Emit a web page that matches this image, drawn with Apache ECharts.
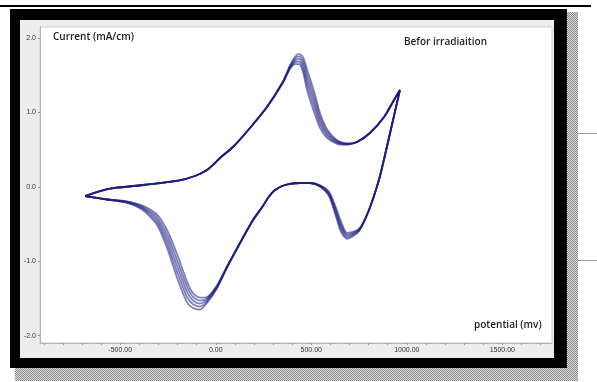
<!DOCTYPE html>
<html>
<head>
<meta charset="utf-8">
<script src="https://cdn.jsdelivr.net/npm/echarts@6/dist/echarts.min.js"></script>
<style>
  html, body { margin: 0; padding: 0; background: #fff; }
  body { width: 597px; height: 382px; position: relative; overflow: hidden; }
  .rule { position: absolute; left: 0; top: 5px; width: 591px; height: 2px; background: #000; }
  .shadow { position: absolute; left: 15px; top: 12px; width: 563px; height: 369px;
    background: repeating-conic-gradient(#8c8c8c 0 25%, #dadada 0 50%) 0 0 / 2px 2px; }
  .frame { position: absolute; left: 10px; top: 9px; width: 557px; height: 359px; background: #000; }
  .panel { position: absolute; left: 20px; top: 20px; width: 534px; height: 338px; background: #ededed; }
  .side { position: absolute; left: 578px; width: 19px; height: 1px; background: #9a9a9a; }
  #chart { position: absolute; left: 0; top: 0; width: 597px; height: 382px; filter: blur(0.45px); }
</style>
</head>
<body>
<div class="rule"></div>
<div class="shadow"></div>
<div class="frame"></div>
<div class="panel"></div>
<div class="side" style="top:133px"></div>
<div class="side" style="top:260px"></div>
<div id="chart"></div>
<script>
// Sweep potential (mV): forward scan from the negative vertex, then reverse scan back
const potential = [
  -684, -606, -527, -381, -203, -109, -46, -4, 22, 90,
  179, 268, 352, 389, 415, 436, 457, 478, 514, 546,
  582, 635, 687, 739, 807, 881, 933, 964,
  922, 886, 854, 802, 750, 687, 656, 629, 593, 546,
  493, 441, 362, 310, 273, 247, 195, 127, 59, 6,
  -46, -83, -119, -151, -203, -255, -308, -381, -465, -569,
  -658, -684
];

// Current density (mA/cm) for each of the five recorded cycles
const cycle1 = [
  -0.123, -0.056, -0.015, 0.025, 0.079, 0.146, 0.227, 0.321, 0.388, 0.536,
  0.792, 1.074, 1.400, 1.588, 1.650, 1.652, 1.540, 1.300, 1.010, 0.790,
  0.660, 0.579, 0.568, 0.603, 0.724, 0.939, 1.168, 1.303,
  0.832, 0.428, 0.092, -0.311, -0.564, -0.620, -0.470, -0.278, -0.066, 0.021,
  0.052, 0.052, 0.025, -0.042, -0.150, -0.258, -0.446, -0.755, -1.070, -1.327,
  -1.482, -1.490, -1.430, -1.270, -0.900, -0.580, -0.370, -0.254, -0.194, -0.170,
  -0.135, -0.123
];
const cycle2 = [
  -0.123, -0.056, -0.015, 0.025, 0.079, 0.146, 0.227, 0.321, 0.388, 0.536,
  0.792, 1.074, 1.405, 1.600, 1.675, 1.686, 1.590, 1.370, 1.080, 0.840,
  0.690, 0.591, 0.572, 0.603, 0.724, 0.939, 1.168, 1.303,
  0.832, 0.428, 0.092, -0.311, -0.572, -0.640, -0.505, -0.308, -0.081, 0.016,
  0.052, 0.052, 0.025, -0.042, -0.150, -0.258, -0.446, -0.755, -1.074, -1.337,
  -1.502, -1.530, -1.480, -1.340, -0.980, -0.640, -0.405, -0.269, -0.199, -0.170,
  -0.135, -0.123
];
const cycle3 = [
  -0.123, -0.056, -0.015, 0.025, 0.079, 0.146, 0.227, 0.321, 0.388, 0.536,
  0.792, 1.074, 1.410, 1.612, 1.700, 1.720, 1.640, 1.440, 1.150, 0.890,
  0.720, 0.603, 0.576, 0.603, 0.724, 0.939, 1.168, 1.303,
  0.832, 0.428, 0.092, -0.311, -0.580, -0.660, -0.540, -0.338, -0.096, 0.011,
  0.052, 0.052, 0.025, -0.042, -0.150, -0.258, -0.446, -0.755, -1.078, -1.347,
  -1.522, -1.570, -1.530, -1.410, -1.060, -0.700, -0.440, -0.284, -0.204, -0.170,
  -0.135, -0.123
];
const cycle4 = [
  -0.123, -0.056, -0.015, 0.025, 0.079, 0.146, 0.227, 0.321, 0.388, 0.536,
  0.792, 1.074, 1.415, 1.624, 1.725, 1.754, 1.690, 1.510, 1.220, 0.940,
  0.750, 0.615, 0.580, 0.603, 0.724, 0.939, 1.168, 1.303,
  0.832, 0.428, 0.092, -0.311, -0.588, -0.680, -0.575, -0.368, -0.111, 0.006,
  0.052, 0.052, 0.025, -0.042, -0.150, -0.258, -0.446, -0.755, -1.082, -1.357,
  -1.542, -1.610, -1.580, -1.480, -1.140, -0.760, -0.475, -0.299, -0.209, -0.170,
  -0.135, -0.123
];
const cycle5 = [
  -0.123, -0.056, -0.015, 0.025, 0.079, 0.146, 0.227, 0.321, 0.388, 0.536,
  0.792, 1.074, 1.420, 1.636, 1.750, 1.788, 1.740, 1.580, 1.290, 0.990,
  0.780, 0.627, 0.584, 0.603, 0.724, 0.939, 1.168, 1.303,
  0.832, 0.428, 0.092, -0.311, -0.596, -0.700, -0.610, -0.398, -0.126, 0.001,
  0.052, 0.052, 0.025, -0.042, -0.150, -0.258, -0.446, -0.755, -1.086, -1.367,
  -1.562, -1.650, -1.630, -1.550, -1.220, -0.820, -0.510, -0.314, -0.214, -0.170,
  -0.135, -0.123
];
const cycles = [cycle1, cycle2, cycle3, cycle4, cycle5];

// Axis ticks and labels
const xLabelValues = [-500, 0, 500, 1000, 1500];
const xTickValues = [-900, -800, -700, -600, -500, -400, -300, -200, -100, 0, 100, 200, 300,
  400, 500, 600, 700, 800, 900, 1000, 1100, 1200, 1300, 1400, 1500, 1600, 1700];
const yLabelValues = [-2, -1, 0, 1, 2];

const chart = echarts.init(document.getElementById('chart'), null, { renderer: 'canvas' });

const series = cycles.map(function (cur, k) {
  return {
    type: 'line',
    name: 'cycle ' + (k + 1),
    data: potential.map(function (e, i) { return [e, cur[i]]; }),
    showSymbol: false,
    smooth: 0.25,
    lineStyle: { color: '#1a1a80', width: 1.8, opacity: 0.55 },
    z: 3
  };
});

chart.setOption({
  animation: false,
  grid: {
    left: 40, top: 27, width: 512, height: 316,
    show: true, backgroundColor: '#ffffff', borderColor: '#cfcfcf', borderWidth: 1
  },
  xAxis: {
    type: 'value', min: -920, max: 1760,
    axisLine: { show: true, onZero: false, lineStyle: { color: '#b4b4b4', width: 1 } },
    axisTick: { show: true, customValues: xTickValues, length: 2, lineStyle: { color: '#9a9a9a' } },
    axisLabel: {
      customValues: xLabelValues, margin: 4, fontSize: 7, color: '#333',
      fontFamily: 'Liberation Sans', formatter: function (v) { return v.toFixed(2); }
    },
    splitLine: { show: false }
  },
  yAxis: {
    type: 'value', min: -2.1, max: 2.15,
    axisLine: { show: true, onZero: false, lineStyle: { color: '#b4b4b4', width: 1 } },
    axisTick: { show: true, customValues: yLabelValues, length: 2, lineStyle: { color: '#9a9a9a' } },
    axisLabel: {
      customValues: yLabelValues, margin: 4, fontSize: 7, color: '#333',
      fontFamily: 'Liberation Sans', formatter: function (v) { return v.toFixed(1); }
    },
    splitLine: { show: false }
  },
  graphic: [
    { type: 'text', left: 53, top: 32, z: 10,
      style: { text: 'Current (mA/cm)', font: '600 10px "Open Sans"', fill: '#1e1e1e' } },
    { type: 'text', left: 404, top: 37, z: 10,
      style: { text: 'Befor irradiaition', font: '600 10px "Open Sans"', fill: '#1e1e1e' } },
    { type: 'text', left: 474, top: 320, z: 10,
      style: { text: 'potential (mv)', font: '600 10px "Open Sans"', fill: '#1e1e1e' } }
  ],
  series: series
});
</script>
</body>
</html>
